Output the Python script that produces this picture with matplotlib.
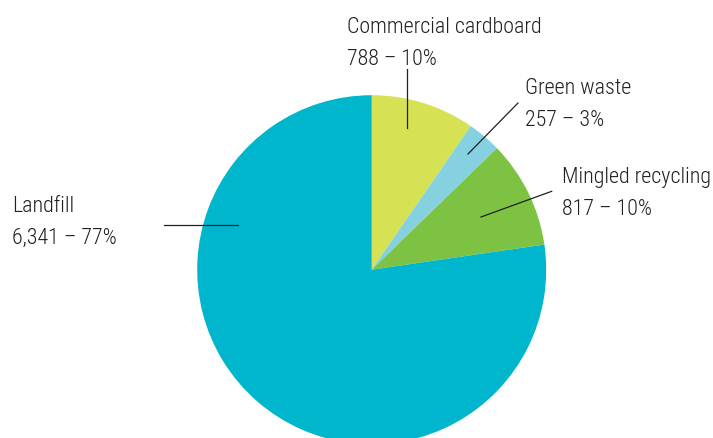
import matplotlib.pyplot as plt
from matplotlib import font_manager

names = ['Commercial cardboard', 'Green waste', 'Mingled recycling', 'Landfill']
values = [788, 257, 817, 6341]
colors = ['#d6e153', '#85d1e0', '#7dc243', '#00b6cd']

W, H = 713, 439

# condensed face like the original; Roboto Condensed is installed with Roboto
files = [f.fname for f in font_manager.fontManager.ttflist]
narrow = None
for key in ['robotocondensed-light.', 'robotocondensed-regular.']:
    hits = [p for p in files if p.lower().split('/')[-1].startswith(key)]
    if hits:
        narrow = hits[0]
        break
if narrow:
    fp = font_manager.FontProperties(fname=narrow, size=15.8)
else:
    fp = font_manager.FontProperties(family=['Roboto', 'DejaVu Sans'], size=13.5)

fig = plt.figure(figsize=(W / 100, H / 100), dpi=100)
ax = fig.add_axes([0, 0, 1, 1])


def py(y):
    # pixel row from top -> data y
    return H - y


ax.pie(values, colors=colors, startangle=90, counterclock=False,
       radius=174.5, center=(371.7, py(270.7)),
       wedgeprops=dict(linewidth=0))
ax.set_xlim(0, W)
ax.set_ylim(0, H)
ax.set_aspect('equal')
ax.axis('off')

total = sum(values)
# label anchor (left x, first baseline) and leader line ends, in pixels
label_pos = [(347, 33), (525, 94), (562, 183), (12, 212)]
leaders = [((406.7, 70), (406.7, 129)),
           ((518, 104), (468, 155)),
           ((551.7, 192.3), (481, 218)),
           ((164, 226), (238.3, 226))]

for name, v, (x, y), (p0, p1) in zip(names, values, label_pos, leaders):
    pct = round(100 * v / total)
    ax.text(x, py(y), name, fontproperties=fp, va='baseline', ha='left', color='#231f20')
    ax.text(x, py(y + 32), f'{v:,} \u2013 {pct}%', fontproperties=fp, va='baseline',
            ha='left', color='#231f20')
    ax.plot([p0[0], p1[0]], [py(p0[1]), py(p1[1])], color='#231f20', lw=0.9)

fig.savefig('out.png', dpi=100)
